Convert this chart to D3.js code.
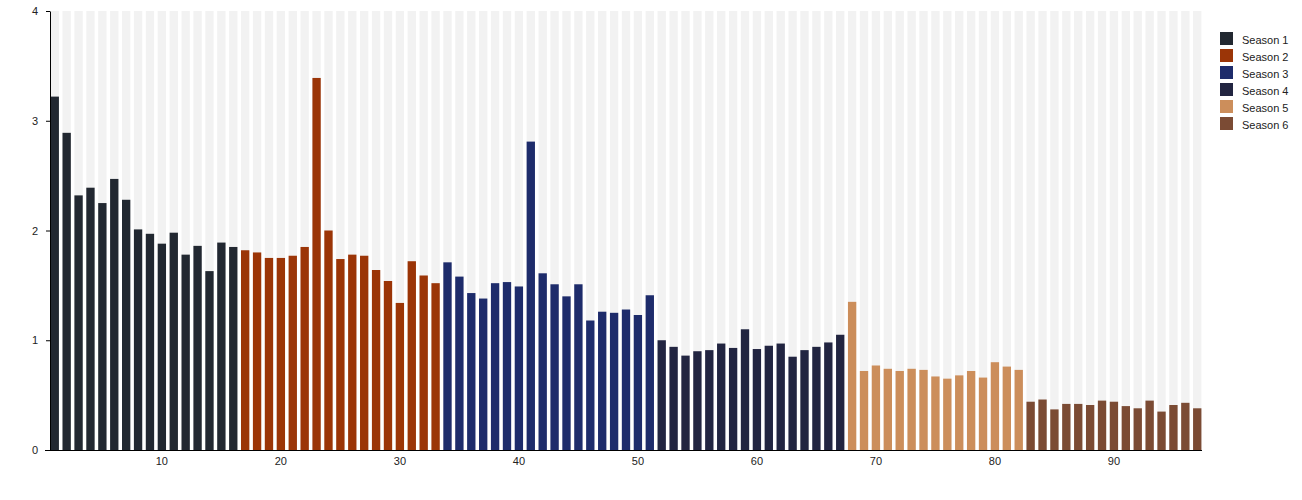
<!DOCTYPE html>
<html>
<head>
<meta charset="utf-8">
<script src="https://cdnjs.cloudflare.com/ajax/libs/d3/7.8.5/d3.min.js"></script>
<style>
  body { margin: 0; background: #fff; font-family: "Liberation Sans", Arial, sans-serif; }
  .axis text { font-size: 11px; fill: #222; }
  .axis path, .axis line { stroke: #000; }
  .legend text { font-size: 11px; fill: #222; }
</style>
</head>
<body>
<div class="chart"></div>
<script>
var seasons = ['Season 1', 'Season 2', 'Season 3', 'Season 4', 'Season 5', 'Season 6'];
var seasonColors = ['#222831', '#9b3507', '#1e2c6b', '#222541', '#cc8e5b', '#7b4b34'];
// number of episodes in each season
var seasonLengths = [16, 17, 18, 16, 15, 15];

var values = [
  3.22, 2.89, 2.32, 2.39, 2.25, 2.47, 2.28, 2.01, 1.97, 1.88, 1.98, 1.78, 1.86, 1.63, 1.89, 1.85,
  1.82, 1.80, 1.75, 1.75, 1.77, 1.85, 3.39, 2.00, 1.74, 1.78, 1.77, 1.64, 1.54, 1.34, 1.72, 1.59, 1.52,
  1.71, 1.58, 1.43, 1.38, 1.52, 1.53, 1.49, 2.81, 1.61, 1.51, 1.40, 1.51, 1.18, 1.26, 1.25, 1.28, 1.23, 1.41,
  1.00, 0.94, 0.86, 0.90, 0.91, 0.97, 0.93, 1.10, 0.92, 0.95, 0.97, 0.85, 0.91, 0.94, 0.98, 1.05,
  1.35, 0.72, 0.77, 0.74, 0.72, 0.74, 0.73, 0.67, 0.65, 0.68, 0.72, 0.66, 0.80, 0.76, 0.73,
  0.44, 0.46, 0.37, 0.42, 0.42, 0.41, 0.45, 0.44, 0.40, 0.38, 0.45, 0.35, 0.41, 0.43, 0.38
];
var yTicks = [0, 1, 2, 3, 4];
var xTicks = [10, 20, 30, 40, 50, 60, 70, 80, 90];

var width = 1302, height = 500;
var margin = {top: 11, right: 100, bottom: 50, left: 50};
var innerW = width - margin.left - margin.right;
var innerH = height - margin.top - margin.bottom;

// build episode rows: episode number, season index
var episodes = [];
var ep = 1;
seasonLengths.forEach(function(len, s) {
  for (var i = 0; i < len; i++) {
    episodes.push({episode: ep, season: s, value: values[ep - 1]});
    ep++;
  }
});

var svg = d3.select(".chart")
  .append("svg")
    .attr("width", width)
    .attr("height", height);

var g = svg.append("g")
  .attr("transform", "translate(" + margin.left + "," + margin.top + ")");

var x = d3.scaleBand()
  .domain(episodes.map(function(d) { return d.episode; }))
  .range([0, innerW])
  .paddingInner(0.3)
  .paddingOuter(0.05);

var y = d3.scaleLinear()
  .domain([0, 4])
  .range([innerH, 0]);

var color = d3.scaleOrdinal()
  .domain(d3.range(seasons.length))
  .range(seasonColors);

//grey background columns
g.selectAll(".bg")
  .data(episodes)
  .enter()
    .append("rect")
      .attr("class", "bg")
      .attr("x", function(d) { return x(d.episode); })
      .attr("y", 0)
      .attr("width", x.bandwidth())
      .attr("height", innerH)
      .attr("fill", "#f2f2f2");

//bars
g.selectAll(".bar")
  .data(episodes)
  .enter()
    .append("rect")
      .attr("class", "bar")
      .attr("x", function(d) { return x(d.episode); })
      .attr("y", function(d) { return y(d.value); })
      .attr("width", x.bandwidth())
      .attr("height", function(d) { return innerH - y(d.value); })
      .attr("fill", function(d) { return color(d.season); });

//axes
g.append("g")
  .attr("class", "axis")
  .attr("transform", "translate(0," + innerH + ")")
  .call(d3.axisBottom(x).tickValues(xTicks).tickSize(0).tickPadding(7))
  .select(".domain").attr("d", "M-5,0.5H" + innerW);

g.append("g")
  .attr("class", "axis")
  .call(d3.axisLeft(y).tickValues(yTicks).tickFormat(d3.format("d")).tickSize(4).tickSizeOuter(0).tickPadding(8));

//legend
var legend = svg.append("g")
  .attr("class", "legend")
  .attr("transform", "translate(1220,32)");

var items = legend.selectAll("g")
  .data(seasons)
  .enter()
    .append("g")
      .attr("transform", function(d, i) { return "translate(0," + i * 17 + ")"; });

items.append("rect")
  .attr("width", 13)
  .attr("height", 13)
  .attr("fill", function(d, i) { return seasonColors[i]; });

items.append("text")
  .attr("x", 22)
  .attr("y", 12)
  .text(function(d) { return d; });
</script>
</body>
</html>
